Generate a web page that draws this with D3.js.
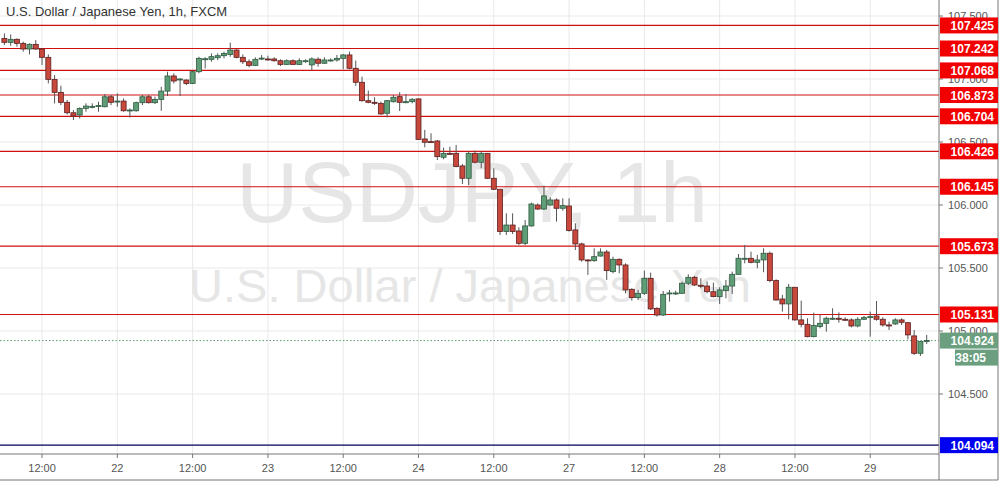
<!DOCTYPE html>
<html><head><meta charset="utf-8">
<script src="https://cdn.jsdelivr.net/npm/d3@7"></script>
<style>body{margin:0;background:#fff}svg{display:block;font-family:"Liberation Sans",Arial,sans-serif}</style>
</head><body><svg id="chart" width="1002" height="486"></svg>
<script>
// hourly candles, open / high / low / close
var opens = [107.322,107.291,107.315,107.283,107.238,107.275,107.238,107.172,106.997,106.894,106.815,106.732,106.714,106.767,106.780,106.783,106.780,106.859,106.817,106.825,106.751,106.748,106.812,106.859,106.812,106.838,106.904,107.024,106.994,106.992,106.965,107.058,107.156,107.156,107.169,107.185,107.195,107.230,107.172,107.137,107.108,107.161,107.159,107.159,107.145,107.116,107.145,107.116,107.143,
  107.112,107.157,107.125,107.149,107.151,107.164,107.191,107.085,106.974,106.828,106.815,106.807,106.728,106.820,106.860,106.818,106.820,106.842,106.524,106.503,106.508,106.379,106.410,106.410,106.310,106.212,106.410,106.339,106.410,106.212,106.125,105.789,105.841,105.794,105.696,105.834,106.000,105.968,106.000,106.040,105.974,105.992,105.802,105.691,105.564,105.558,105.595,105.627,105.471,105.569,
  105.524,105.331,105.265,105.299,105.418,105.180,105.127,105.297,105.297,105.299,105.379,105.426,105.363,105.357,105.312,105.273,105.320,105.357,105.450,105.574,105.577,105.545,105.564,105.617,105.400,105.254,105.215,105.347,105.088,105.053,104.955,105.035,105.061,105.098,105.101,105.093,105.088,105.040,105.093,105.111,105.119,105.093,105.048,105.056,105.088,105.066,104.961,104.823,104.916];
var highs = [107.362,107.354,107.322,107.296,107.283,107.309,107.243,107.195,107.031,106.947,106.833,106.754,106.775,106.807,106.807,106.820,106.881,106.873,106.886,106.846,106.767,106.820,106.873,106.873,106.860,106.939,107.058,107.045,107.005,106.997,107.066,107.177,107.172,107.203,107.203,107.217,107.288,107.235,107.195,107.156,107.172,107.190,107.185,107.172,107.156,107.156,107.156,107.164,107.156,
  107.172,107.172,107.172,107.164,107.191,107.199,107.217,107.146,107.019,106.908,106.855,106.820,106.834,106.873,106.895,106.881,106.847,106.847,106.596,106.569,106.516,106.455,106.463,106.477,106.326,106.424,106.432,106.424,106.410,106.291,106.125,105.934,105.934,105.823,105.881,106.019,106.013,106.154,106.061,106.053,106.053,106.053,105.855,105.701,105.569,105.656,105.656,105.643,105.590,105.577,
  105.537,105.339,105.326,105.479,105.463,105.188,105.318,105.326,105.320,105.392,105.450,105.437,105.418,105.392,105.384,105.347,105.405,105.471,105.611,105.683,105.630,105.604,105.656,105.630,105.410,105.286,105.373,105.347,105.241,105.101,105.146,105.127,105.114,105.180,105.148,105.109,105.101,105.109,105.119,105.154,105.238,105.109,105.074,105.101,105.101,105.066,105.008,104.916,104.969];
var lows = [107.270,107.264,107.256,107.217,107.195,107.230,107.111,106.965,106.806,106.793,106.719,106.674,106.687,106.740,106.767,106.740,106.775,106.793,106.780,106.740,106.695,106.740,106.793,106.806,106.801,106.748,106.865,106.965,106.865,106.952,106.960,107.045,107.084,107.137,107.150,107.164,107.177,107.164,107.119,107.092,107.103,107.150,107.145,107.137,107.103,107.111,107.111,107.111,107.130,
  107.067,107.098,107.119,107.138,107.138,107.077,107.077,106.945,106.820,106.807,106.794,106.715,106.696,106.813,106.746,106.807,106.807,106.516,106.458,106.495,106.357,106.363,106.397,106.299,106.167,106.159,106.331,106.291,106.207,106.119,105.762,105.762,105.770,105.683,105.683,105.828,105.961,105.961,105.995,105.868,105.955,105.789,105.643,105.550,105.445,105.550,105.590,105.405,105.458,105.458,
  105.299,105.241,105.246,105.286,105.167,105.114,105.119,105.233,105.286,105.294,105.365,105.357,105.339,105.299,105.267,105.215,105.260,105.294,105.445,105.537,105.537,105.498,105.466,105.387,105.241,105.154,105.093,105.082,105.029,104.950,104.950,105.021,104.995,105.088,105.066,105.082,105.029,105.029,105.088,104.955,105.082,105.035,105.008,105.048,105.048,104.934,104.810,104.802,104.897];
var closes = [107.291,107.315,107.283,107.238,107.275,107.238,107.172,106.997,106.894,106.815,106.732,106.707,106.767,106.785,106.783,106.789,106.859,106.815,106.825,106.748,106.754,106.812,106.859,106.812,106.838,106.904,107.024,106.984,107.000,106.965,107.058,107.164,107.161,107.177,107.185,107.203,107.230,107.172,107.137,107.108,107.156,107.166,107.156,107.145,107.116,107.145,107.116,107.145,107.145,
  107.159,107.125,107.151,107.151,107.164,107.191,107.085,106.974,106.828,106.815,106.810,106.723,106.828,106.855,106.815,106.820,106.839,106.521,106.498,106.500,106.384,106.410,106.408,106.305,106.212,106.410,106.339,106.410,106.212,106.125,105.789,105.841,105.789,105.696,105.834,106.008,105.968,106.072,106.040,105.974,105.995,105.797,105.691,105.564,105.561,105.590,105.627,105.479,105.569,105.524,
  105.326,105.265,105.299,105.418,105.175,105.127,105.291,105.302,105.302,105.379,105.426,105.365,105.360,105.312,105.273,105.326,105.357,105.450,105.577,105.577,105.545,105.564,105.617,105.400,105.246,105.215,105.347,105.088,105.053,104.955,105.043,105.061,105.101,105.101,105.093,105.090,105.040,105.093,105.106,105.114,105.093,105.048,105.045,105.088,105.069,104.969,104.823,104.916,104.924];

var levels = [107.425,107.242,107.068,106.873,106.704,106.426,106.145,105.673,105.131];
var support = 104.094;
var lastPrice = 104.924;
var priceTicks = [107.5,107.0,106.5,106.0,105.5,105.0,104.5];
var timeTickIdx = [6,18,30,42,54,66,78,90,102,114,126,138];
var timeTickLabels = ["12:00","22","12:00","23","12:00","24","12:00","27","12:00","28","12:00","29"];

var svg = d3.select("#chart");
var plotR = 939, plotB = 454;
var x = d3.scaleLinear().domain([0,147]).range([4.4,926.7]);
var y = d3.scaleLinear().domain([105,104.5]).range([331,394]);

// grid
svg.selectAll(".vg").data(timeTickIdx).enter().append("line")
  .attr("x1",function(d){return x(d)}).attr("x2",function(d){return x(d)})
  .attr("y1",0).attr("y2",plotB).attr("stroke","#e9e9e9");
svg.selectAll(".hg").data(priceTicks).enter().append("line")
  .attr("x1",0).attr("x2",plotR).attr("y1",function(d){return y(d)}).attr("y2",function(d){return y(d)})
  .attr("stroke","#e9e9e9");

// watermark
svg.append("text").attr("x",472).attr("y",222).attr("text-anchor","middle")
  .attr("font-size",86).attr("fill","#e6e6e6").text("USDJPY, 1h");
svg.append("text").attr("x",470).attr("y",302).attr("text-anchor","middle")
  .attr("font-size",47).attr("fill","#e6e6e6").text("U.S. Dollar / Japanese Yen");

// level lines
svg.selectAll(".lv").data(levels).enter().append("line")
  .attr("x1",0).attr("x2",plotR).attr("y1",function(d){return y(d)}).attr("y2",function(d){return y(d)})
  .attr("stroke","#d01010").attr("stroke-width",1.2);
svg.append("line").attr("x1",0).attr("x2",plotR).attr("y1",y(support)).attr("y2",y(support))
  .attr("stroke","#00005a").attr("stroke-width",1.2);
svg.append("line").attr("x1",0).attr("x2",plotR).attr("y1",y(lastPrice)).attr("y2",y(lastPrice))
  .attr("stroke","#5d9a73").attr("stroke-dasharray","1.5,2");

// candles
var idx = d3.range(closes.length);
var g = svg.append("g");
g.selectAll(".wk").data(idx).enter().append("line")
  .attr("x1",function(i){return x(i)}).attr("x2",function(i){return x(i)})
  .attr("y1",function(i){return y(highs[i])}).attr("y2",function(i){return y(lows[i])})
  .attr("stroke","#555");
g.selectAll(".bd").data(idx).enter().append("rect")
  .attr("x",function(i){return x(i)-2.5}).attr("width",5)
  .attr("y",function(i){return y(Math.max(opens[i],closes[i]))})
  .attr("height",function(i){return Math.max(1,Math.abs(y(opens[i])-y(closes[i])))})
  .attr("fill",function(i){return closes[i]>=opens[i]?"#5f9d77":"#c8483c"})
  .attr("stroke",function(i){return closes[i]>=opens[i]?"#2f5a40":"#5a2020"}).attr("stroke-width",0.8);

// frame
svg.append("line").attr("x1",plotR).attr("x2",plotR).attr("y1",0).attr("y2",480).attr("stroke","#777");
svg.append("line").attr("x1",0).attr("x2",plotR).attr("y1",plotB).attr("y2",plotB).attr("stroke","#777");
svg.append("line").attr("x1",998).attr("x2",998).attr("y1",0).attr("y2",480).attr("stroke","#777");
svg.append("line").attr("x1",0).attr("x2",998).attr("y1",480).attr("y2",480).attr("stroke","#777");

// price axis
svg.selectAll(".pt").data(priceTicks).enter().append("text")
  .attr("x",948).attr("y",function(d){return y(d)+4}).attr("font-size",11).attr("fill","#555")
  .text(function(d){return d.toFixed(3)});
svg.selectAll(".ptk").data(priceTicks).enter().append("line")
  .attr("x1",plotR).attr("x2",plotR+4).attr("y1",function(d){return y(d)}).attr("y2",function(d){return y(d)}).attr("stroke","#777");

// time axis
svg.selectAll(".tt").data(timeTickIdx).enter().append("text")
  .attr("x",function(d){return x(d)}).attr("y",472).attr("text-anchor","middle")
  .attr("font-size",11).attr("fill","#555").text(function(d,i){return timeTickLabels[i]});
svg.selectAll(".ttk").data(timeTickIdx).enter().append("line")
  .attr("x1",function(d){return x(d)}).attr("x2",function(d){return x(d)})
  .attr("y1",plotB).attr("y2",plotB+4).attr("stroke","#777");

// labels on axis
function tag(v, fill, txt, x0) {
  svg.append("rect").attr("x",x0||940).attr("y",y(v)-8).attr("width",(998-(x0||940))).attr("height",16).attr("fill",fill);
  svg.append("text").attr("x",994).attr("y",y(v)+4.5).attr("text-anchor","end")
    .attr("font-size",12).attr("font-weight","bold").attr("fill","#fff").text(txt);
}
levels.forEach(function(v){ tag(v,"#f20000",v.toFixed(3)); });
tag(support,"#0000f0",support.toFixed(3));
tag(lastPrice,"#6b9f7f",lastPrice.toFixed(3));
svg.append("rect").attr("x",955).attr("y",y(lastPrice)+9).attr("width",43).attr("height",16).attr("fill","#6b9f7f");
svg.append("text").attr("x",986).attr("y",y(lastPrice)+21).attr("text-anchor","end")
  .attr("font-size",12).attr("font-weight","bold").attr("fill","#fff").text("38:05");

// title
svg.append("text").attr("x",6).attr("y",16).attr("font-size",13).attr("fill","#333")
  .text("U.S. Dollar / Japanese Yen, 1h, FXCM");
</script></body></html>
